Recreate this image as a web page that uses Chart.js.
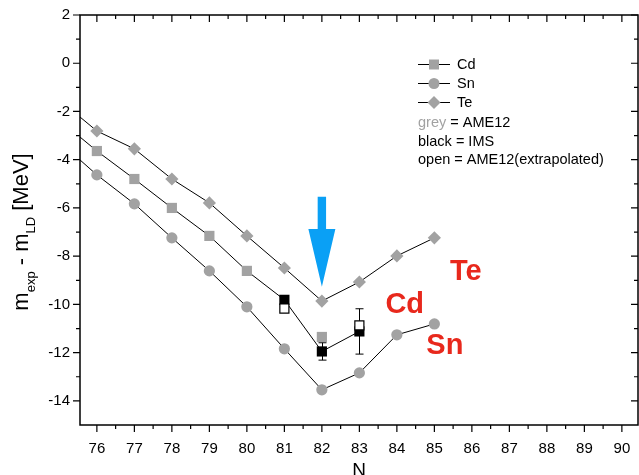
<!DOCTYPE html>
<html><head><meta charset="utf-8">
<script src="https://cdn.jsdelivr.net/npm/chart.js@4/dist/chart.umd.min.js"></script>
<style>html,body{margin:0;padding:0;background:#fff;overflow:hidden}</style>
</head><body>
<canvas id="c" width="639" height="475"></canvas>
<script>
// ---- data ----
const N_LINE = [75, 76, 77, 78, 79, 80, 81, 82, 83, 84, 85];
const TE = [-1.52, -2.81, -3.55, -4.80, -5.79, -7.16, -8.49, -9.86, -9.07, -7.99, -7.24];
const SN = [-3.25, -4.63, -5.83, -7.24, -8.61, -10.10, -11.84, -13.54, -12.84, -11.26, -10.81];
const N_CD_LINE = [75, 76, 77, 78, 79, 80, 81, 82, 83];
const CD_LINE = [-2.35, -3.64, -4.80, -6.00, -7.16, -8.61, -9.81, -11.95, -11.12];
const N_CD_AME = [76, 77, 78, 79, 80, 82];
const CD_AME = [-3.64, -4.80, -6.00, -7.16, -8.61, -11.35];
const N_CD_IMS = [81, 82, 83];
const CD_IMS = [-9.81, -11.95, -11.12];
const CD_IMS_ERR = [0, 0.36, 0.94];
const N_CD_OPEN = [81, 83];
const CD_OPEN = [-10.17, -10.87];
const X_TICKS = [76, 77, 78, 79, 80, 81, 82, 83, 84, 85, 86, 87, 88, 89, 90];
const Y_TICKS = [-14, -12, -10, -8, -6, -4, -2, 0, 2];
const LEGEND_SERIES = ['Cd', 'Sn', 'Te'];
const LEGEND_NOTES = [['grey', ' = AME12'], ['black', ' = IMS'], ['open', ' = AME12(extrapolated)']];
const LABELS = [{t: 'Te', x: 85.84, y: -8.63}, {t: 'Cd', x: 84.21, y: -9.98}, {t: 'Sn', x: 85.28, y: -11.68}];

const GREY = '#a2a2a2';
const RED = '#e8281c';
const BLUE = '#0aa0f5';
const FONT = "'Liberation Sans', Arial, sans-serif";
const pts = (xs, ys) => xs.map((x, i) => ({x: x, y: ys[i]}));

function drawMarker(ctx, style, x, y, fill) {
  ctx.save();
  ctx.fillStyle = fill;
  ctx.beginPath();
  if (style === 'rect') { ctx.rect(x - 5, y - 5, 10, 10); }
  else if (style === 'circle') { ctx.arc(x, y, 5.5, 0, Math.PI * 2); }
  else { ctx.moveTo(x, y - 6.5); ctx.lineTo(x + 6.5, y); ctx.lineTo(x, y + 6.5); ctx.lineTo(x - 6.5, y); ctx.closePath(); }
  ctx.fill();
  ctx.restore();
}

function zeroPad(s) { s.paddingTop = 0; s.paddingBottom = 0; s.paddingLeft = 0; s.paddingRight = 0; }

const deco = {
  id: 'deco',
  beforeDatasetsDraw(chart) {
    const {ctx, scales: {x, y}} = chart;
    ctx.save();
    ctx.strokeStyle = '#000';
    ctx.lineWidth = 1;
    N_CD_IMS.forEach((n, i) => {
      const e = CD_IMS_ERR[i];
      if (!e) return;
      const px = Math.round(x.getPixelForValue(n)) + 0.5;
      const y1 = y.getPixelForValue(CD_IMS[i] + e), y2 = y.getPixelForValue(CD_IMS[i] - e);
      ctx.beginPath();
      ctx.moveTo(px, y1); ctx.lineTo(px, y2);
      ctx.moveTo(px - 4, y1); ctx.lineTo(px + 4, y1);
      ctx.moveTo(px - 4, y2); ctx.lineTo(px + 4, y2);
      ctx.stroke();
    });
    ctx.restore();
  },
  afterDraw(chart) {
    const {ctx, chartArea: {left, right, top, bottom}, scales: {x, y}} = chart;
    ctx.save();
    // frame
    ctx.strokeStyle = '#000';
    ctx.lineWidth = 1.5;
    ctx.strokeRect(left, top, right - left, bottom - top);
    // ticks
    ctx.lineWidth = 1.2;
    ctx.beginPath();
    for (let v = 75.5; v <= 90.5; v += 0.5) {
      if (v < x.min || v > x.max) continue;
      const major = Number.isInteger(v);
      const L = major ? 7 : 4;
      const px = x.getPixelForValue(v);
      ctx.moveTo(px, bottom); ctx.lineTo(px, bottom + L);
      ctx.moveTo(px, top); ctx.lineTo(px, top + L);
    }
    for (let v = -14; v <= 2; v += 1) {
      const major = v % 2 === 0;
      const L = major ? 7 : 4;
      const py = y.getPixelForValue(v);
      ctx.moveTo(left - L, py); ctx.lineTo(left, py);
      ctx.moveTo(right - L, py); ctx.lineTo(right, py);
    }
    ctx.stroke();

    // y title with subscripts
    ctx.save();
    ctx.translate(28, 232);
    ctx.rotate(-Math.PI / 2);
    ctx.fillStyle = '#000';
    ctx.textBaseline = 'alphabetic';
    const mainF = '22px ' + FONT, subF = '13px ' + FONT;
    const parts = [['m', mainF, 0], ['exp', subF, 7], [' - ', mainF, 0], ['m', mainF, 0], ['LD', subF, 7], [' [MeV]', mainF, 0]];
    let tot = 0;
    parts.forEach(p => { ctx.font = p[1]; tot += ctx.measureText(p[0]).width; });
    let cx = -tot / 2;
    parts.forEach(p => { ctx.font = p[1]; ctx.textAlign = 'left'; ctx.fillText(p[0], cx, p[2]); cx += ctx.measureText(p[0]).width; });
    ctx.restore();

    // x title
    ctx.fillStyle = '#000';
    ctx.font = '19px ' + FONT;
    ctx.textAlign = 'center';
    ctx.textBaseline = 'alphabetic';
    ctx.fillText('N', (left + right) / 2, 476);

    // legend
    const ly = [64, 83, 102];
    const styles = {Cd: 'rect', Sn: 'circle', Te: 'diamond'};
    ctx.font = '14.5px ' + FONT;
    ctx.textAlign = 'left';
    ctx.textBaseline = 'middle';
    LEGEND_SERIES.forEach((s, i) => {
      ctx.strokeStyle = '#000'; ctx.lineWidth = 1;
      ctx.beginPath(); ctx.moveTo(418, ly[i] + 0.5); ctx.lineTo(450, ly[i] + 0.5); ctx.stroke();
      drawMarker(ctx, styles[s], 434, ly[i] + 0.5, GREY);
      ctx.fillStyle = '#000';
      ctx.fillText(s, 457, ly[i] + 1);
    });
    const ny = [123, 142, 160];
    LEGEND_NOTES.forEach((n, i) => {
      ctx.fillStyle = i === 0 ? GREY : '#000';
      ctx.fillText(n[0], 418, ny[i]);
      const w = ctx.measureText(n[0]).width;
      ctx.fillStyle = '#000';
      ctx.fillText(n[1], 418 + w, ny[i]);
    });

    // red labels
    ctx.fillStyle = RED;
    ctx.font = 'bold 29px ' + FONT;
    ctx.textAlign = 'center';
    ctx.textBaseline = 'middle';
    LABELS.forEach(l => ctx.fillText(l.t, x.getPixelForValue(l.x), y.getPixelForValue(l.y) + 1));

    // blue arrow at N=82
    const ax = x.getPixelForValue(82);
    const yTop = y.getPixelForValue(-5.54), yBase = y.getPixelForValue(-6.87), yTip = y.getPixelForValue(-9.27);
    ctx.fillStyle = BLUE;
    ctx.beginPath();
    ctx.moveTo(ax - 4.2, yTop); ctx.lineTo(ax + 4.2, yTop); ctx.lineTo(ax + 4.2, yBase);
    ctx.lineTo(ax + 13.5, yBase); ctx.lineTo(ax, yTip); ctx.lineTo(ax - 13.5, yBase);
    ctx.lineTo(ax - 4.2, yBase); ctx.closePath();
    ctx.fill();
    ctx.restore();
  }
};

new Chart(document.getElementById('c'), {
  type: 'scatter',
  data: {
    datasets: [
      {label: 'Cd open', data: pts(N_CD_OPEN, CD_OPEN), pointStyle: 'rect', pointRadius: 6.4, pointBackgroundColor: '#fff', pointBorderColor: '#000', pointBorderWidth: 1.2, order: 1},
      {label: 'Cd IMS', data: pts(N_CD_IMS, CD_IMS), pointStyle: 'rect', pointRadius: 7.2, pointBackgroundColor: '#000', pointBorderWidth: 0, order: 2},
      {label: 'Cd AME12', data: pts(N_CD_AME, CD_AME), pointStyle: 'rect', pointRadius: 7.2, pointBackgroundColor: GREY, pointBorderWidth: 0, order: 3},
      {label: 'Cd line', data: pts(N_CD_LINE, CD_LINE), showLine: true, borderColor: '#000', borderWidth: 1, pointRadius: 0, order: 6},
      {label: 'Sn', data: pts(N_LINE, SN), showLine: true, borderColor: '#000', borderWidth: 1, pointStyle: 'circle', pointRadius: 5.6, pointBackgroundColor: GREY, pointBorderWidth: 0, order: 4},
      {label: 'Te', data: pts(N_LINE, TE), showLine: true, borderColor: '#000', borderWidth: 1, pointStyle: 'rectRot', pointRadius: 6.6, pointBackgroundColor: GREY, pointBorderWidth: 0, order: 5}
    ]
  },
  options: {
    responsive: false,
    animation: false,
    devicePixelRatio: 1,
    layout: {autoPadding: false, padding: {top: 15, right: 1, left: 0, bottom: 0}},
    plugins: {legend: {display: false}, tooltip: {enabled: false}},
    events: [],
    scales: {
      x: {
        type: 'linear', min: 75.55, max: 90.43,
        afterBuildTicks: s => { s.ticks = X_TICKS.map(v => ({value: v})); },
        afterFit: s => { s.height = 50; zeroPad(s); },
        grid: {display: false, drawTicks: false}, border: {display: false},
        ticks: {color: '#000', font: {family: FONT, size: 15}, padding: 15, maxRotation: 0, autoSkip: false, callback: v => String(v)}
      },
      y: {
        type: 'linear', min: -15, max: 2,
        afterBuildTicks: s => { s.ticks = Y_TICKS.map(v => ({value: v})); },
        afterFit: s => { s.width = 80; zeroPad(s); },
        grid: {display: false, drawTicks: false}, border: {display: false},
        ticks: {color: '#000', font: {family: FONT, size: 15}, padding: 10, autoSkip: false, callback: v => String(v)}
      }
    }
  },
  plugins: [deco]
});
</script>
</body></html>
